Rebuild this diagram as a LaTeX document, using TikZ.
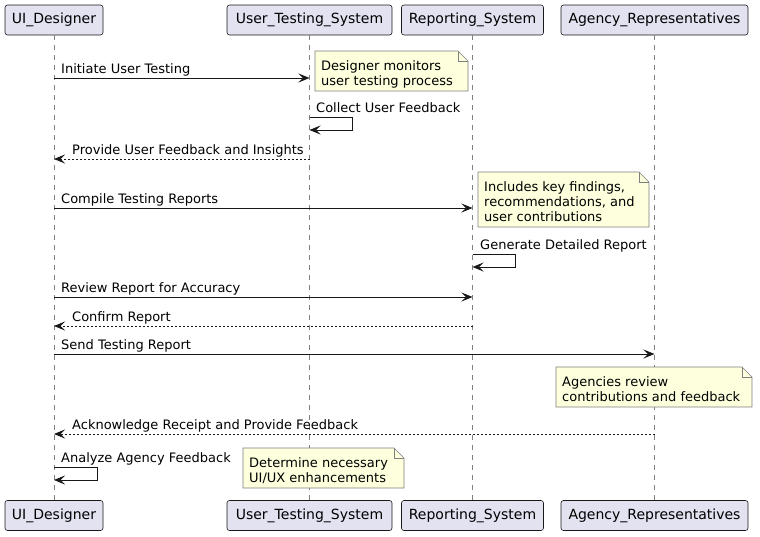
\documentclass[tikz,border=0pt]{standalone}
\usepackage{fontspec}
\setmainfont{DejaVu Sans}
\usetikzlibrary{arrows.meta}
\definecolor{partfill}{HTML}{E2E2F0}
\definecolor{ink}{HTML}{181818}
\definecolor{notefill}{HTML}{FEFFDD}
\definecolor{notedraw}{HTML}{7F7F7F}
\tikzset{
  part/.style={draw=ink, fill=partfill, rounded corners=2.5pt, line width=0.6pt,
    minimum height=30pt, inner sep=0pt, font=\fontsize{14}{16}\selectfont},
  lifeline/.style={draw=ink!55, line width=0.6pt, dash pattern=on 5pt off 5pt},
  msg/.style={draw=ink, line width=1pt, -{Stealth[length=11pt,width=9pt,inset=4.5pt]}},
  retmsg/.style={msg, dash pattern=on 2pt off 2pt},
  lbl/.style={inner sep=0pt, anchor=base west, text=black},
  notebox/.style={draw=notedraw, fill=notefill, line width=0.6pt},
  notetext/.style={inner sep=0pt, anchor=base west, align=left, text=black,
    font=\fontsize{13}{15}\selectfont},
}
% name, x1, y1, x2, y2, text  (text anchored at the baseline of its last line)
\newcommand\drawnote[6]{%
  \filldraw[notebox] (#2,#3) -- ({#4-10},#3) -- (#4,{#3+10}) -- (#4,#5) -- (#2,#5) -- cycle;
  \draw[notebox, fill=none] ({#4-10},#3) -- ({#4-10},{#3+10}) -- (#4,{#3+10});
  \node[notetext] (#1) at ({#2+6},{#5-6}) {#6};
}
\begin{document}
\begin{tikzpicture}[x=1pt, y=-1pt, font=\fontsize{13}{15}\selectfont]
\useasboundingbox (0,0) rectangle (760,536);
% participants
\node[part, minimum width=98pt] (ud) at (54,20) {UI\_Designer};
\node[part, minimum width=165pt] (uts) at (309.5,20) {User\_Testing\_System};
\node[part, minimum width=142pt] (rs) at (472.5,20) {Reporting\_System};
\node[part, minimum width=187pt] (ar) at (654.5,20) {Agency\_Representatives};
\node[part, minimum width=98pt] (udb) at (54,515.5) {UI\_Designer};
\node[part, minimum width=165pt] (utsb) at (309.5,515.5) {User\_Testing\_System};
\node[part, minimum width=142pt] (rsb) at (472.5,515.5) {Reporting\_System};
\node[part, minimum width=187pt] (arb) at (654.5,515.5) {Agency\_Representatives};
% lifelines
\draw[lifeline] (ud.south) -- (udb.north);
\draw[lifeline] (uts.south) -- (utsb.north);
\draw[lifeline] (rs.south) -- (rsb.north);
\draw[lifeline] (ar.south) -- (arb.north);
% 1
\draw[msg] (ud |- 0,78) -- (uts |- 0,78);
\node[lbl] (t1) at (61,73) {Initiate User Testing};
\drawnote{n1}{315}{51}{468}{91}{Designer monitors\\user testing process}
% 2
\draw[msg] (uts |- 0,117) -- ++(43,0) -- ++(0,13) -- (uts |- 0,130);
\node[lbl] (t2) at (316,112) {Collect User Feedback};
% 3
\draw[retmsg] (uts |- 0,159) -- (ud |- 0,159);
\node[lbl] (t3) at (72,154) {Provide User Feedback and Insights};
% 4
\draw[msg] (ud |- 0,208) -- (rs |- 0,208);
\node[lbl] (t4) at (61,203) {Compile Testing Reports};
\drawnote{n2}{478}{172}{649}{227}{Includes key findings,\\recommendations, and\\user contributions}
% 5
\draw[msg] (rs |- 0,254) -- ++(43,0) -- ++(0,13) -- (rs |- 0,267);
\node[lbl] (t5) at (480,249) {Generate Detailed Report};
% 6
\draw[msg] (ud |- 0,297) -- (rs |- 0,297);
\node[lbl] (t6) at (61,292) {Review Report for Accuracy};
% 7
\draw[retmsg] (rs |- 0,326) -- (ud |- 0,326);
\node[lbl] (t7) at (72,321) {Confirm Report};
% 8
\draw[msg] (ud |- 0,354) -- (ar |- 0,354);
\node[lbl] (t8) at (61,349) {Send Testing Report};
\drawnote{n3}{556}{367}{752}{407}{Agencies review\\contributions and feedback}
% 9
\draw[retmsg] (ar |- 0,434) -- (ud |- 0,434);
\node[lbl] (t9) at (72,429) {Acknowledge Receipt and Provide Feedback};
% 10
\draw[msg] (ud |- 0,467) -- ++(43,0) -- ++(0,13) -- (ud |- 0,480);
\node[lbl] (t10) at (61,462) {Analyze Agency Feedback};
\drawnote{n4}{243}{448}{404}{488}{Determine necessary\\UI/UX enhancements}
\end{tikzpicture}
\end{document}
